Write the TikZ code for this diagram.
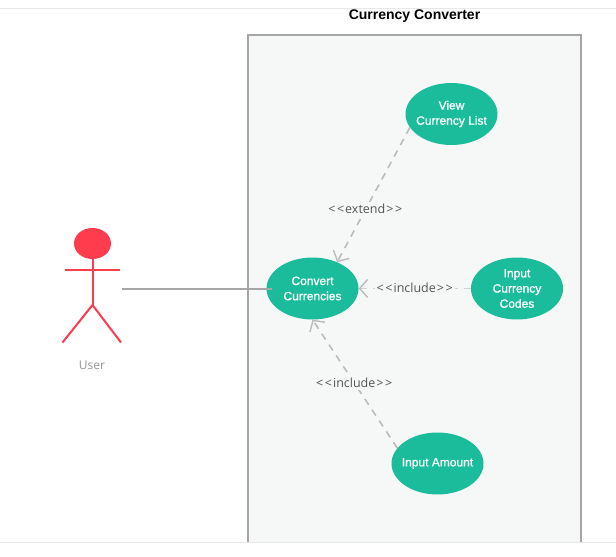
\documentclass[tikz,border=0pt]{standalone}
\usepackage{fontspec}
\setmainfont{Liberation Sans}
\newfontfamily\labelfont{Open Sans}
\newfontfamily\ucfont[FakeBold=1]{Liberation Sans}
\usetikzlibrary{arrows.meta,shapes.geometric}
\definecolor{panelfill}{HTML}{F6F8F8}
\definecolor{framegray}{HTML}{A6A6A6}
\definecolor{rulegray}{HTML}{E8E8E8}
\definecolor{usecasegreen}{HTML}{1ABC9C}
\definecolor{actorred}{HTML}{FF3B4E}
\definecolor{dashgray}{HTML}{BBBBBB}
\definecolor{labelgray}{HTML}{555555}
\newcommand{\chevL}{<\kern1.6pt<\kern1pt}
\newcommand{\chevR}{\kern1pt>\kern1.6pt>}
\tikzset{
  usecase/.style={ellipse,fill=usecasegreen,inner sep=0pt,
    minimum width=92pt,minimum height=62pt},
  uctext/.style={text=white,align=center,inner sep=0pt,
    font=\ucfont\fontsize{12}{15.2}\selectfont},
  limb/.style={draw=actorred,line width=2pt},
  dep/.style={draw=dashgray,line width=1.6pt,dash pattern=on 7pt off 6pt,
    -{Straight Barb[length=8pt,width=18pt,line width=1.4pt,color=dashgray]}},
  deplabel/.style={fill=panelfill,text=labelgray,inner sep=2pt,
    font=\labelfont\fontsize{12.5}{14}\selectfont},
  assoc/.style={draw=framegray,line width=2pt}
}
\begin{document}
\begin{tikzpicture}[x=1pt,y=-1pt]
\useasboundingbox (0,0) rectangle (616,557);
\fill[white] (0,0) rectangle (616,557);
% page rules
\coordinate (ruleTL) at (0,8.5);
\coordinate (ruleTR) at (616,8.5);
\coordinate (ruleBL) at (0,542.5);
\coordinate (ruleBR) at (616,542.5);
\draw[rulegray,line width=1pt] (ruleTL) -- (ruleTR);
\draw[rulegray,line width=1pt] (ruleBL) -- (ruleBR);
% system frame
\path[fill=panelfill] (247.5,34.5) rectangle (581,542);
\draw[framegray,line width=2pt] (247.5,542) -- (247.5,34.5) -- (581,34.5) -- (581,542);
\node[font=\bfseries\fontsize{14}{16}\selectfont,text=black] (title) at (414.5,16) {Currency Converter};
% actor
\node[ellipse,fill=actorred,minimum width=37pt,minimum height=31pt,inner sep=0pt] (head) at (92.5,243.5) {};
\coordinate (hip) at (92.5,305);
\coordinate (armL) at (65,270);
\coordinate (armR) at (119.5,270);
\coordinate (legL) at (62.5,342.5);
\coordinate (legR) at (121,342.5);
\draw[limb] (head.south) -- (hip);
\draw[limb] (armL) -- (armR);
\draw[limb] (legL) -- (hip) -- (legR);
\node[text=framegray!90!black,font=\labelfont\fontsize{12}{14}\selectfont] (user) at (92,365) {User};
% use cases
\node[usecase,label={[uctext]center:View\\Currency List}] (view) at (451.5,114) {};
\node[usecase,label={[uctext]center:Convert\\Currencies}] (convert) at (312.5,288.5) {};
\node[usecase,label={[uctext]center:Input\\Currency\\Codes}] (codes) at (517,288.5) {};
\node[usecase,label={[uctext]center:Input Amount}] (amount) at (437.5,463.5) {};
% connectors
\coordinate (userport) at (122,288.5);
\coordinate (convertport) at (272,288.5);
\draw[assoc] (userport) -- (convertport);
\draw[dep] (view.198) -- node[deplabel,pos=0.6,yshift=-1pt,xshift=-1pt] (lblextend) {\chevL extend\chevR} (convert.47);
\draw[dep,draw=dashgray!65] (codes.west) -- node[deplabel,pos=0.5,yshift=1pt] (lblinccodes) {\chevL include\chevR} (convert.east);
\draw[dep] (amount.159) -- node[deplabel,pos=0.508] (lblincamount) {\chevL include\chevR} (convert.south);
\end{tikzpicture}
\end{document}
